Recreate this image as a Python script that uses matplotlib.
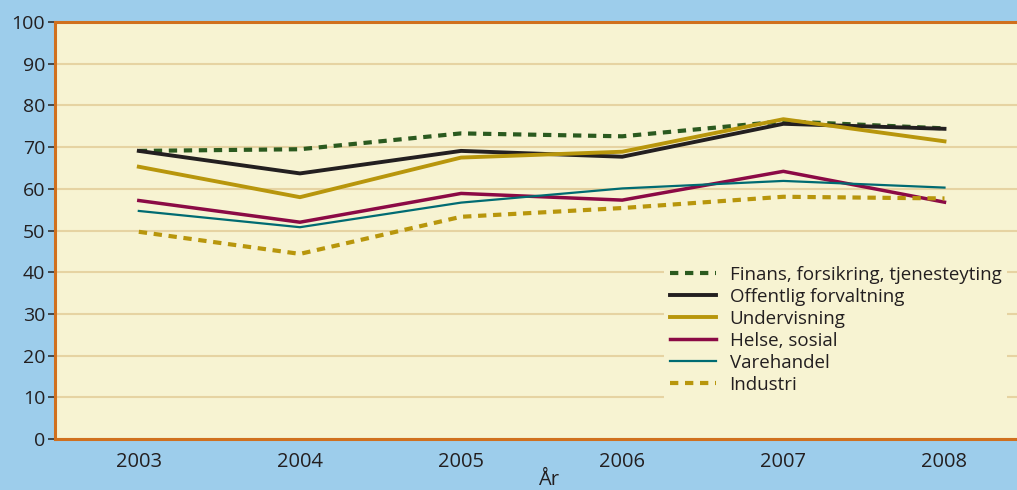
import matplotlib.pyplot as plt

years = [2003, 2004, 2005, 2006, 2007, 2008]

finans = [69.1, 69.5, 73.3, 72.6, 76.2, 74.5]
offentlig = [69.1, 63.7, 69.1, 67.7, 75.6, 74.4]
undervisning = [65.3, 58.0, 67.5, 68.9, 76.7, 71.4]
helse = [57.2, 52.0, 58.9, 57.3, 64.2, 56.8]
varehandel = [54.7, 50.8, 56.7, 60.1, 61.9, 60.3]
industri = [49.7, 44.4, 53.3, 55.4, 58.1, 57.7]

labels = ["Finans, forsikring, tjenesteyting", "Offentlig forvaltning",
          "Undervisning", "Helse, sosial", "Varehandel", "Industri"]

plt.rcParams['font.family'] = ['Open Sans', 'DejaVu Sans']

fig = plt.figure(figsize=(10.17, 4.9), dpi=100)
fig.patch.set_facecolor("#9dcdeb")
ax = fig.add_axes([0.0541, 0.104, 0.9459, 0.851])
ax.set_facecolor("#f7f3d2")

gold = "#b8960c"
ax.plot(years, finans, color="#2b5a1f", lw=3, ls=(0, (2, 1.6)), label=labels[0])
ax.plot(years, offentlig, color="#231f20", lw=2.8, label=labels[1])
ax.plot(years, undervisning, color=gold, lw=2.8, label=labels[2])
ax.plot(years, helse, color="#8b0a45", lw=2.5, label=labels[3])
ax.plot(years, varehandel, color="#006b72", lw=1.6, label=labels[4])
ax.plot(years, industri, color=gold, lw=3, ls=(0, (2, 1.6)), label=labels[5])

ax.set_xlim(2002.48, 2008.45)
ax.set_ylim(0, 100)
ax.set_xticks(years)
ax.set_yticks(range(0, 101, 10))
ax.yaxis.grid(True, color="#e6d3a2", lw=1.5)
ax.set_axisbelow(True)

for side in ["left", "bottom", "top"]:
    ax.spines[side].set_color("#d0701e")
    ax.spines[side].set_linewidth(2.2)
ax.spines["right"].set_visible(False)

ax.tick_params(axis="y", length=5, width=1.2, color="#333333", labelsize=14, labelcolor="#231f20", pad=2)
ax.tick_params(axis="x", length=0, labelsize=14.5, labelcolor="#231f20", pad=9)
ax.set_xlabel("År", fontsize=14.5, color="#231f20")
ax.xaxis.set_label_coords(0.5135, -0.074)

leg = ax.legend(loc="upper left", bbox_to_anchor=(0.633, 0.4285), frameon=True,
                fontsize=13.5, handlelength=2.5, handletextpad=0.7,
                labelspacing=0.21, borderpad=0.3, borderaxespad=0, fancybox=False)
leg.get_frame().set_facecolor("#f7f3d2")
leg.get_frame().set_edgecolor("none")
leg.get_frame().set_alpha(1)
for t in leg.get_texts():
    t.set_color("#231f20")

fig.savefig("out.png", dpi=100, facecolor=fig.get_facecolor())
